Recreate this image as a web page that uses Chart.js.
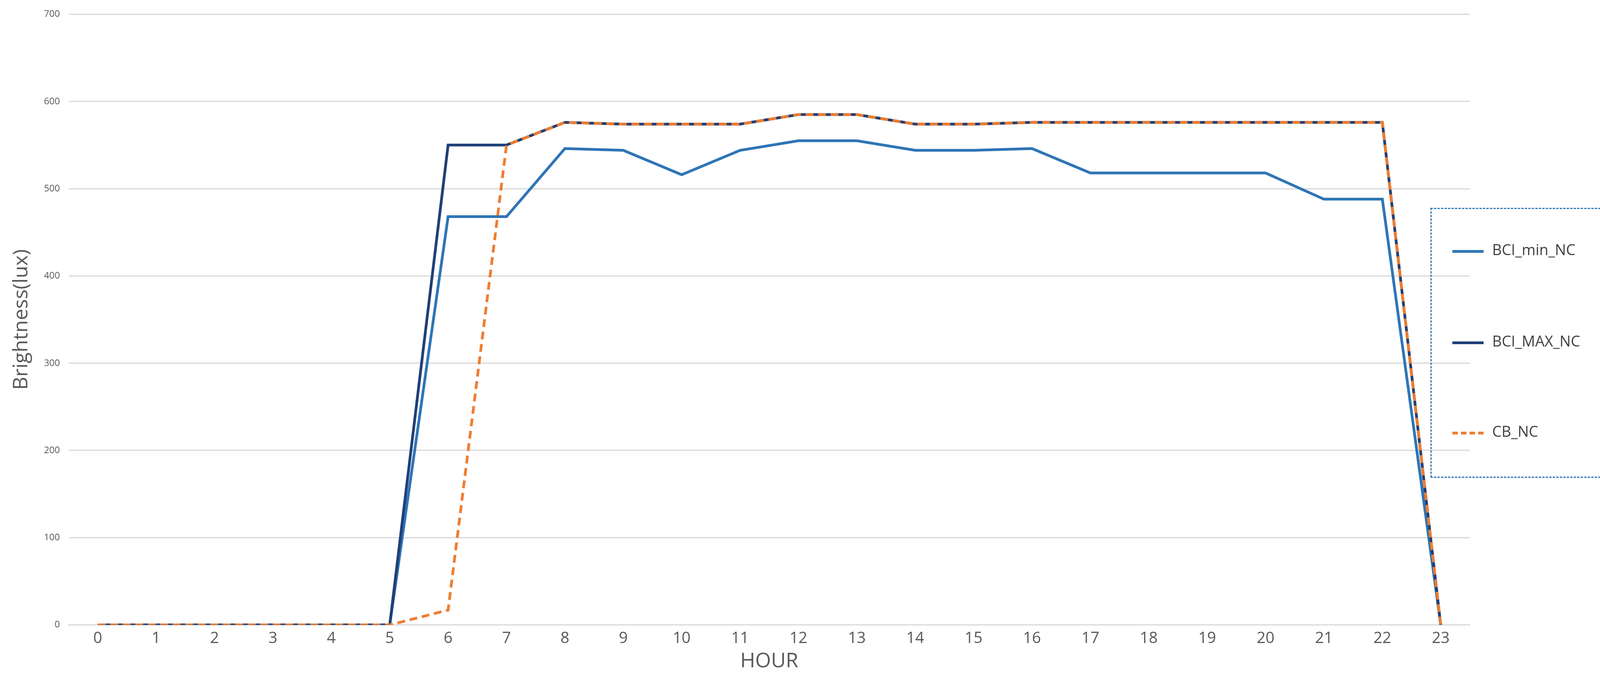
<!DOCTYPE html>
<html>
<head>
<meta charset="utf-8">
<script src="https://cdn.jsdelivr.net/npm/chart.js@4"></script>
<style>
  body { margin: 0; background: #fff; }
  #wrap { position: relative; width: 4135px; height: 1779px; }
  .leg { position: absolute; font-family: "Open Sans", sans-serif; font-size: 38px; color: #404040; }
  .sw { position: absolute; height: 0; width: 80px; }
</style>
</head>
<body>
<div id="wrap">
  <canvas id="grafico" width="4135" height="1779"></canvas>
  <!-- legend box -->
  <div style="position:absolute;left:3662px;top:532px;width:480px;border-top:3px dashed #2E75B6;"></div>
  <div style="position:absolute;left:3662px;top:1220px;width:480px;border-top:3px dashed #2E75B6;"></div>
  <div style="position:absolute;left:3662px;top:532px;height:690px;border-left:3px dashed #2E75B6;"></div>
  <div class="sw" style="left:3718px;top:640px;border-top:7px solid #2E75B6;"></div>
  <div class="leg" style="left:3820px;top:612px;">BCI_min_NC</div>
  <div class="sw" style="left:3718px;top:874px;border-top:7px solid #1F3F77;"></div>
  <div class="leg" style="left:3820px;top:846px;">BCI_MAX_NC</div>
  <div class="sw" style="left:3718px;top:1105px;border-top:7px dashed #ED7D31;"></div>
  <div class="leg" style="left:3820px;top:1077px;">CB_NC</div>
</div>
<script>
var horas = ['0','1','2','3','4','5','6','7','8','9','10','11','12','13','14','15','16','17','18','19','20','21','22','23'];
var bciMin = [0,0,0,0,0,0,468,468,546,544,516,544,555,555,544,544,546,518,518,518,518,488,488,0];
var bciMax = [0,0,0,0,0,0,550,550,576,574,574,574,585,585,574,574,576,576,576,576,576,576,576,0];
var cbNC = [0,0,0,0,0,0,17,550,576,574,574,574,585,585,574,574,576,576,576,576,576,576,576,0];
var yTicks = [0,100,200,300,400,500,600,700];

var ctx = document.getElementById('grafico').getContext('2d');
var chart = new Chart(ctx, {
  type: 'line',
  data: {
    labels: horas,
    datasets: [
      { label: 'BCI_min_NC', data: bciMin, borderColor: '#2E75B6', borderWidth: 7, pointRadius: 0, tension: 0, order: 2 },
      { label: 'BCI_MAX_NC', data: bciMax, borderColor: '#1F3F77', borderWidth: 7, pointRadius: 0, tension: 0, order: 1 },
      { label: 'CB_NC', data: cbNC, borderColor: '#ED7D31', borderWidth: 7, borderDash: [20, 12], pointRadius: 0, tension: 0, order: 0 }
    ]
  },
  options: {
    responsive: false,
    animation: false,
    layout: { padding: { left: 20, right: 372, top: 36, bottom: 55 } },
    plugins: { legend: { display: false }, tooltip: { enabled: false } },
    scales: {
      x: {
        offset: true,
        grid: { display: false },
        border: { color: '#d9d9d9', width: 3 },
        ticks: { color: '#595959', font: { family: 'Open Sans', size: 40 }, maxRotation: 0 },
        title: { display: true, text: 'HOUR', color: '#595959', font: { family: 'Open Sans', size: 52 }, padding: 0 }
      },
      y: {
        min: 0, max: 700,
        afterBuildTicks: function (ax) { ax.ticks = yTicks.map(function (v) { return { value: v }; }); },
        grid: { color: '#d9d9d9', lineWidth: 3, drawTicks: false },
        border: { display: false },
        ticks: { color: '#595959', padding: 22, font: { family: 'Open Sans', size: 24 } },
        title: { display: true, text: 'Brightness(lux)', color: '#595959', font: { family: 'Open Sans', size: 52 } }
      }
    }
  }
});
</script>
</body>
</html>
